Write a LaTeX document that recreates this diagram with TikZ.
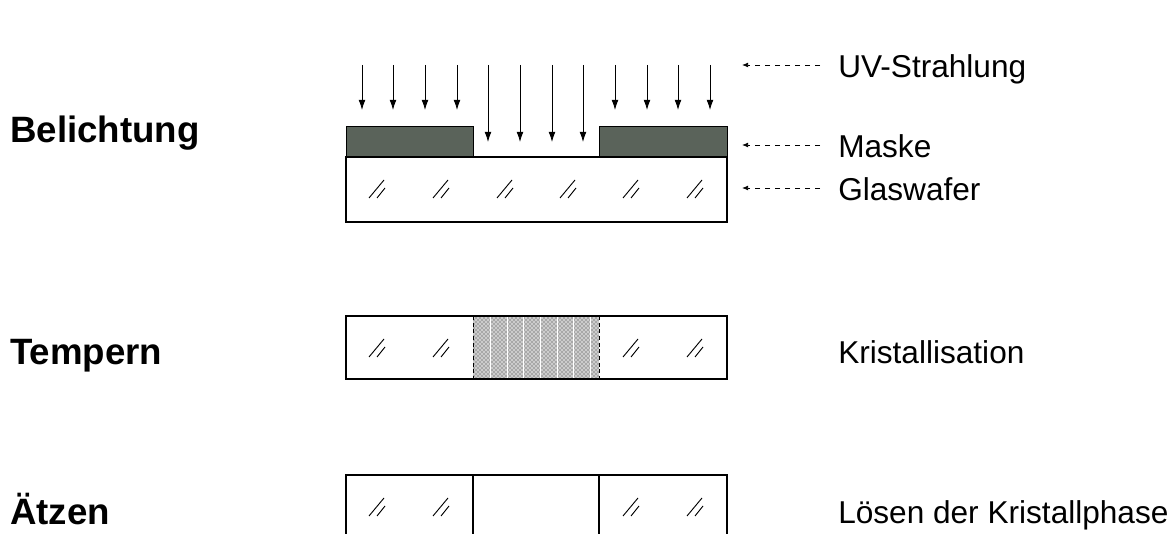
\documentclass[tikz,border=0pt]{standalone}
\usepackage{fontspec}
\setmainfont{Liberation Sans}
\usetikzlibrary{arrows.meta, patterns}
\definecolor{maskgray}{RGB}{90,99,90}

\tikzset{
  stage/.style={anchor=base west, inner sep=0pt, font=\bfseries\fontsize{27.5}{32}\selectfont},
  side/.style={anchor=base west, inner sep=0pt, font=\fontsize{23.7}{28}\selectfont},
  wafer/.style={line width=1.6pt},
  uvray/.style={-{Latex[length=7.5pt,width=5pt]}, line width=0.6pt},
  pointer/.style={-{Latex[length=4.5pt,width=3.5pt]}, line width=0.5pt,
    dash pattern=on 4pt off 3.5pt, shorten <=13.5pt},
  glass/.pic={\draw[line width=0.7pt] (-8,9) -- (7,-9) (0,9) -- (8,-1);}
}

\begin{document}
\begin{tikzpicture}[x=0.75pt, y=-0.75pt]
\useasboundingbox (0,0) rectangle (1171,534);

% Belichtung
\node[stage] (belichtung) at (10,143) {Belichtung};
\draw[thin, fill=maskgray] (346,126) rectangle (473,157);
\draw[thin, fill=maskgray] (599,126) rectangle (727,157);
\draw[wafer] (346,157) rectangle (727,222);
\foreach \x in {377,441,505,568,631,695} \pic at (\x,189) {glass};
\foreach \x in {362,393,425,457,615,647,678,710}
  \draw[uvray] (\x,65) -- (\x,110);
\foreach \x in {488,520,552,583}
  \draw[uvray] (\x,65) -- (\x,142);

\coordinate (uvtip) at (742,65);
\coordinate (masktip) at (742,145);
\coordinate (glastip) at (742,188);
\node[side] (uv) at (838,78) {UV-Strahlung};
\node[side] (maske) at (838,158) {Maske};
\node[side] (glas) at (838,201) {Glaswafer};
\draw[pointer] (uv.west |- uvtip) -- (uvtip);
\draw[pointer] (maske.west |- masktip) -- (masktip);
\draw[pointer] (glas.west |- glastip) -- (glastip);

% Tempern
\node[stage] (tempern) at (10,365) {Tempern};
\fill[black!20] (473,316) rectangle (599,379);
\fill[pattern=crosshatch dots, pattern color=black!80] (473,316) rectangle (599,379);
\foreach \x in {490,507,523,540,557,573,590}
  \draw[white, line width=0.35pt] (\x,316) -- (\x,379);
\draw[densely dashed, thin] (473,316) -- (473,379) (599,316) -- (599,379);
\draw[wafer] (346,316) rectangle (727,379);
\foreach \x in {377,441,631,695} \pic at (\x,348) {glass};
\node[side] (kristall) at (838,364) {Kristallisation};

% Aetzen
\node[stage] (aetzen) at (10,524) {Ätzen};
\draw[wafer] (346,534) -- (346,475) -- (727,475) -- (727,534)
  (473,475) -- (473,534) (599,475) -- (599,534);
\foreach \x in {377,441,631,695} \pic at (\x,507) {glass};
\node[side] (loesen) at (838,523) {Lösen der Kristallphase};

\end{tikzpicture}
\end{document}
